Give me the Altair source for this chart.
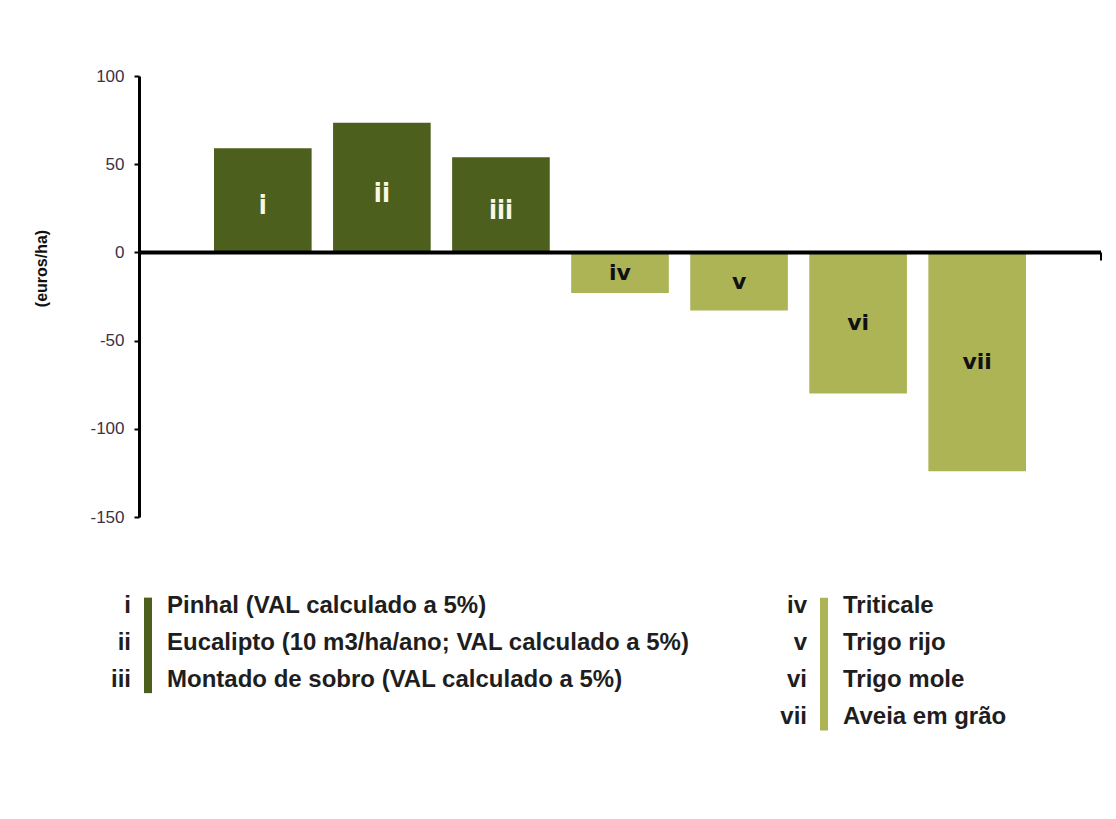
import altair as alt
import pandas as pd

# ---- data ----
romans = ["i", "ii", "iii", "iv", "v", "vi", "vii"]
values = [59, 73.5, 54, -23, -33, -80, -124]
groups = ["floresta", "floresta", "floresta", "cereal", "cereal", "cereal", "cereal"]
roman_forest = ["i", "ii", "iii"]
names_forest = [
    "Pinhal (VAL calculado a 5%)",
    "Eucalipto (10 m3/ha/ano; VAL calculado a 5%)",
    "Montado de sobro (VAL calculado a 5%)",
]
roman_cereal = ["iv", "v", "vi", "vii"]
names_cereal = ["Triticale", "Trigo rijo", "Trigo mole", "Aveia em grão"]
y_ticks = [-150, -100, -50, 0, 50, 100]
y_title = "(euros/ha)"

DARK = "#4d5f1c"
LIGHT = "#adb456"
FONT = "Liberation Sans, Arial, sans-serif"

W, H = 962, 441
LH = 149

bars_df = pd.DataFrame({"roman": romans, "value": values, "group": groups})
zero_df = pd.DataFrame({"z": [0]})

xenc = alt.X("roman:N", sort=romans, axis=None,
             scale=alt.Scale(paddingInner=0.18, paddingOuter=0.63))
yscale = alt.Scale(domain=[-150, 100], nice=False, zero=False)
yaxis = alt.Axis(values=y_ticks, title=y_title, grid=False,
                 labelExpr="'' + datum.value",
                 domainColor="black", domainWidth=3,
                 tickColor="black", tickSize=5, tickWidth=2,
                 labelPadding=10, labelFont=FONT, labelFontSize=17,
                 labelColor="#3d3045",
                 titleFont=FONT, titleFontSize=16, titleFontWeight="bold",
                 titleColor="#111111", titleX=-98, titleY=192,
                 titleBaseline="middle")


def yenc(field):
    return alt.Y(field, scale=yscale, axis=yaxis)


base = alt.Chart(bars_df)
bars = base.mark_bar().encode(
    x=xenc, y=yenc("value:Q"),
    color=alt.Color("group:N", scale=alt.Scale(domain=["floresta", "cereal"],
                                               range=[DARK, LIGHT]), legend=None),
)
zero_line = alt.Chart(zero_df).mark_rule(color="black", strokeWidth=4).encode(
    y=yenc("z:Q"), x=alt.value(0), x2=alt.value(W)
)
end_tick = alt.Chart(zero_df).mark_rule(color="black", strokeWidth=2, y2Offset=8).encode(
    y=yenc("z:Q"), y2="z:Q", x=alt.value(W)
)
labels_top = base.transform_filter("datum.value > 0").transform_calculate(
    mid="datum.value / 2").mark_text(
    font="Liberation Sans Narrow, DejaVu Sans Condensed, sans-serif",
    fontSize=26, fontWeight="bold", color="#f8f8e4", baseline="middle", dy=6
).encode(x=xenc, y=yenc("mid:Q"), text="roman:N")
labels_bot = base.transform_filter("datum.value < 0").transform_calculate(
    mid="datum.value / 2").mark_text(
    font="DejaVu Sans, sans-serif", fontWeight="bold",
    fontSize=22, color="#111111", baseline="middle"
).encode(x=xenc, y=yenc("mid:Q"), text="roman:N")

top = alt.layer(bars, labels_top, labels_bot, zero_line, end_tick).properties(width=W, height=H)

# ---- legend ----
ly_scale = alt.Scale(domain=[-0.5, 3.5], reverse=True, nice=False, zero=False)


def ly(field):
    return alt.Y(field, scale=ly_scale, axis=None)


def legend_group(romans_list, names_list, color, x0):
    df = pd.DataFrame({"roman": romans_list, "name": names_list,
                       "row": list(range(len(romans_list)))})
    c = alt.Chart(df)
    num = c.mark_text(align="right", baseline="middle", font=FONT, fontSize=24,
                      fontWeight="bold", color="#1e1e1e").encode(
        x=alt.value(x0 - 8), y=ly("row:Q"), text="roman:N")
    bar = c.transform_aggregate(lo="min(row)", hi="max(row)").mark_rule(
        color=color, strokeWidth=8, yOffset=-8, y2Offset=13).encode(
        x=alt.value(x0 + 9), y=ly("lo:Q"), y2="hi:Q")
    txt = c.mark_text(align="left", baseline="middle", font=FONT, fontSize=24,
                      fontWeight="bold", color="#1e1e1e").encode(
        x=alt.value(x0 + 28), y=ly("row:Q"), text="name:N")
    return [num, bar, txt]


legend = alt.layer(
    *legend_group(roman_forest, names_forest, DARK, 0),
    *legend_group(roman_cereal, names_cereal, LIGHT, 676),
).properties(width=W, height=LH)

chart = alt.vconcat(top, legend, spacing=70, bounds="flush").properties(
    padding={"left": 25, "top": 59, "right": 5, "bottom": 5}
).configure_view(stroke=None)

chart.save("out.html", embed_options={"renderer": "svg", "actions": False})
